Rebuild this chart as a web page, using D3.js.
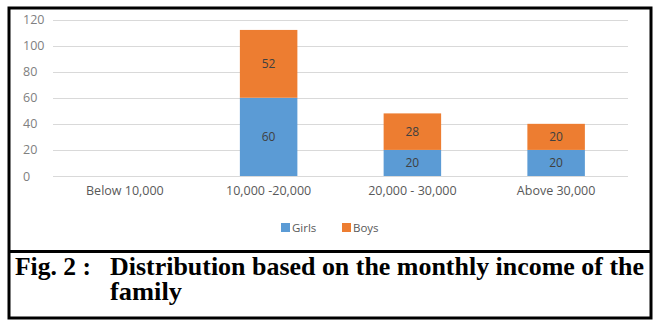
<!DOCTYPE html>
<html>
<head>
<meta charset="utf-8">
<script src="https://cdn.jsdelivr.net/npm/d3@7"></script>
<style>
  html, body { margin: 0; padding: 0; background: #fff; }
  svg { display: block; }
</style>
</head>
<body>
<svg id="chart" width="655" height="320"></svg>
<script>
// Income brackets and counts per gender
const categories = ["Below 10,000", "10,000 -20,000", "20,000 - 30,000", "Above 30,000"];
const girls = [0, 60, 20, 20];
const boys = [0, 52, 28, 20];
const yTicks = [0, 20, 40, 60, 80, 100, 120];
const seriesNames = ["Girls", "Boys"];
const seriesColors = ["#5B9BD5", "#ED7D31"];
const captionLabel = "Fig. 2 :";
const captionLine1 = "Distribution based on the monthly income of the";
const captionLine2 = "family";

const svg = d3.select("#chart");
const uiFont = "'Open Sans', 'Noto Sans', sans-serif";

// Frame around the figure
svg.append("rect")
  .attr("x", 9).attr("y", 8).attr("width", 642).attr("height", 310)
  .attr("fill", "none").attr("stroke", "#000").attr("stroke-width", 3);
svg.append("line")
  .attr("x1", 9).attr("x2", 651).attr("y1", 251.5).attr("y2", 251.5)
  .attr("stroke", "#000").attr("stroke-width", 3);

// Scales
const x = d3.scaleBand().domain(categories).range([53, 628]).paddingInner(0.6).paddingOuter(0.3);
const y = d3.scaleLinear().domain([0, 120]).range([176, 19.5]);

// Gridlines
svg.append("g").selectAll("line").data(yTicks).join("line")
  .attr("x1", 53).attr("x2", 628)
  .attr("y1", d => Math.round(y(d)) + 0.5).attr("y2", d => Math.round(y(d)) + 0.5)
  .attr("stroke", "#d9d9d9").attr("stroke-width", 1);

// Y axis labels (left aligned)
const yAxis = d3.axisLeft(y).tickValues(yTicks).tickSize(0).tickPadding(0);
const yg = svg.append("g").attr("transform", "translate(23,0)").call(yAxis);
yg.select(".domain").remove();
yg.selectAll("text")
  .attr("text-anchor", "start").attr("x", 0)
  .attr("fill", "#808080").attr("font-family", uiFont).attr("font-size", 12.5);

// X axis labels
const xAxis = d3.axisBottom(x).tickSize(0).tickPadding(0);
const xg = svg.append("g").attr("transform", "translate(0,186)").call(xAxis);
xg.select(".domain").remove();
xg.selectAll("text")
  .attr("fill", "#595959").attr("font-family", uiFont).attr("font-size", 12.5);

// Stacked bars
const rows = categories.map((c, i) => ({ cat: c, Girls: girls[i], Boys: boys[i] }));
const stacked = d3.stack().keys(seriesNames)(rows);
const color = d3.scaleOrdinal().domain(seriesNames).range(seriesColors);

const layers = svg.append("g").selectAll("g").data(stacked).join("g")
  .attr("fill", d => color(d.key));
layers.selectAll("rect").data(d => d.filter(p => p[1] - p[0] > 0)).join("rect")
  .attr("x", d => x(d.data.cat))
  .attr("width", x.bandwidth())
  .attr("y", d => y(d[1]))
  .attr("height", d => y(d[0]) - y(d[1]));

// Value labels centred in each segment
layers.selectAll("text").data(d => d.filter(p => p[1] - p[0] > 0)).join("text")
  .attr("x", d => x(d.data.cat) + x.bandwidth() / 2)
  .attr("y", d => y((d[0] + d[1]) / 2))
  .attr("dy", "0.35em")
  .attr("text-anchor", "middle")
  .attr("fill", "#404040").attr("font-family", uiFont).attr("font-size", 12)
  .text(d => d[1] - d[0]);

// Legend
const legend = svg.append("g").attr("transform", "translate(281,223)");
const legendOffsets = [0, 61];
seriesNames.forEach((name, i) => {
  const g = legend.append("g").attr("transform", `translate(${legendOffsets[i]},0)`);
  g.append("rect").attr("width", 9).attr("height", 9).attr("fill", seriesColors[i]);
  g.append("text").attr("x", 11).attr("y", 4.5).attr("dy", "0.35em")
    .attr("fill", "#595959").attr("font-family", uiFont).attr("font-size", 11.5)
    .text(name);
});

// Caption
const capFont = "'Liberation Serif', 'Times New Roman', serif";
svg.append("text").attr("x", 15).attr("y", 275)
  .attr("font-family", capFont).attr("font-weight", "bold").attr("font-size", 26)
  .attr("textLength", 76).attr("lengthAdjust", "spacingAndGlyphs")
  .text(captionLabel);
svg.append("text").attr("x", 110).attr("y", 275)
  .attr("font-family", capFont).attr("font-weight", "bold").attr("font-size", 26)
  .attr("textLength", 534).attr("lengthAdjust", "spacingAndGlyphs")
  .text(captionLine1);
svg.append("text").attr("x", 110).attr("y", 300)
  .attr("font-family", capFont).attr("font-weight", "bold").attr("font-size", 26)
  .attr("textLength", 72).attr("lengthAdjust", "spacingAndGlyphs")
  .text(captionLine2);
</script>
</body>
</html>
